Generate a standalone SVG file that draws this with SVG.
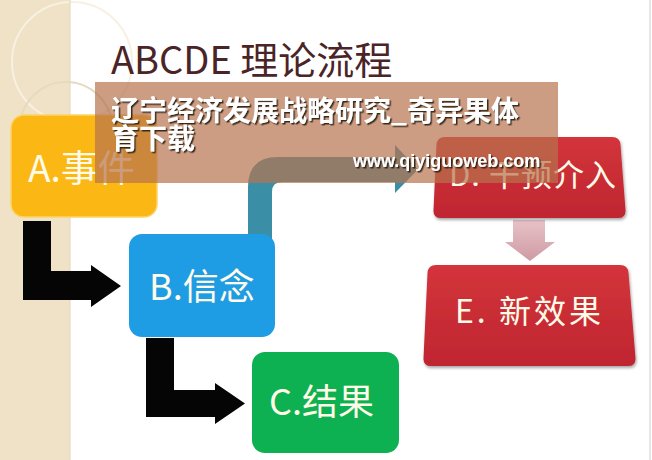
<svg xmlns="http://www.w3.org/2000/svg" width="652" height="460" viewBox="0 0 652 460">
  <style>
    .lbl { font-family: "Noto Sans CJK SC", "Noto Sans", sans-serif; fill: #fffbe8; }
    .title { font-family: "Noto Sans CJK SC", "Open Sans", sans-serif; fill: #4a2426; font-size: 38px; }
    .ov { font-family: "Noto Sans CJK SC", "Liberation Sans", sans-serif; font-weight: bold; fill: #ffffff; }
    .blk { fill: #050505; }
  </style>
  <defs>
    <linearGradient id="red" x1="0" y1="0" x2="0" y2="1">
      <stop offset="0" stop-color="#d3343b"/>
      <stop offset="1" stop-color="#bf2630"/>
    </linearGradient>
    <linearGradient id="pink" x1="0" y1="0" x2="0" y2="1">
      <stop offset="0" stop-color="#e7c2c8"/>
      <stop offset="1" stop-color="#cf9aa3"/>
    </linearGradient>
    <filter id="sh" x="-10%" y="-10%" width="120%" height="130%">
      <feDropShadow dx="1" dy="2" stdDeviation="1.5" flood-color="#000" flood-opacity="0.35"/>
    </filter>
    <filter id="tsh" x="-5%" y="-20%" width="110%" height="140%">
      <feDropShadow dx="1.5" dy="1.5" stdDeviation="0.6" flood-color="#2a1a10" flood-opacity="0.9"/>
    </filter>
  </defs>

  <!-- background -->
  <rect x="0" y="0" width="652" height="460" fill="#ffffff"/>
  <g id="sidebar">
    <rect x="0" y="0" width="70" height="460" fill="#efe2c7"/>
    <circle cx="72" cy="62" r="60" fill="none" stroke="#f8f1e2" stroke-width="2"/>
    <circle cx="66" cy="128" r="46" fill="none" stroke="#e6dac0" stroke-width="2"/>
    <line x1="70" y1="0" x2="70" y2="460" stroke="#e4d6b8" stroke-width="1"/>
  </g>
  <line x1="650" y1="0" x2="650" y2="460" stroke="#e6e6e6" stroke-width="2"/>

  <g id="title">
    <text class="title" x="111" y="74">ABCDE 理论流程</text>
  </g>

  <!-- connectors -->
  <g id="connectors">
    <path class="blk" d="M23 221 L51 221 L51 271 L91 271 L91 265 L121 286 L91 307 L91 300 L23 300 Z"/>
    <path class="blk" d="M146 338 L174 338 L174 390 L215 390 L215 383 L245 403.5 L215 424 L215 417 L146 417 Z"/>
    <path d="M248 240 L248 187 Q248 157 278 157 L395 157 L395 145 L418 169.5 L395 193 L395 182 L282 182 Q272 182 272 192 L272 240 Z" fill="#3a8fa7"/>
    <path d="M513 220 L545 220 L545 242 L555 242 L530 261 L505 242 L513 242 Z" fill="url(#pink)"/>
  </g>

  <g id="nodeA">
    <rect x="11" y="115" width="146" height="102" rx="13" fill="#fbb713" stroke="#fdd36a" stroke-width="1.5"/>
    <text class="lbl" x="28" y="182" font-size="37">A.事件</text>
  </g>
  <g id="nodeB">
    <rect x="129" y="234" width="146" height="103" rx="13" fill="#1f9de4"/>
    <text class="lbl" x="149" y="300" font-size="36">B.信念</text>
  </g>
  <g id="nodeC">
    <rect x="252" y="352" width="147" height="101" rx="13" fill="#0db151"/>
    <text class="lbl" x="269" y="415" font-size="36">C.结果</text>
  </g>
  <g id="nodeD">
    <path d="M445 137 L612 137 Q620 137 620.5 145 L625.5 210 Q626 218 618 218 L441 218 Q433 218 433.5 210 L436.5 145 Q437 137 445 137 Z" fill="url(#red)" filter="url(#sh)"/>
    <text class="lbl" x="449" y="186" font-size="31" letter-spacing="1">D. 干预介入</text>
  </g>
  <g id="nodeE">
    <path d="M436 265 L620 265 Q628 265 628.5 273 L635.5 358 Q636 366 628 366 L431 366 Q423 366 423.5 358 L427.5 273 Q428 265 436 265 Z" fill="url(#red)" filter="url(#sh)"/>
    <text class="lbl" x="455" y="323" font-size="32" letter-spacing="3">E. 新效果</text>
  </g>

  <!-- overlay banner -->
  <g id="overlay">
    <rect x="95" y="82" width="463" height="101" fill="#b6724f" fill-opacity="0.7"/>
    <text class="ov" x="111" y="121" font-size="28" filter="url(#tsh)">辽宁经济发展战略研究_奇异果体</text>
    <text class="ov" x="111" y="149" font-size="28" filter="url(#tsh)">育下载</text>
    <text x="353" y="167" font-family="Liberation Sans, Arial, sans-serif" font-weight="bold" font-size="18" fill="#ffffff" filter="url(#tsh)">www.qiyiguoweb.com</text>
  </g>
</svg>
